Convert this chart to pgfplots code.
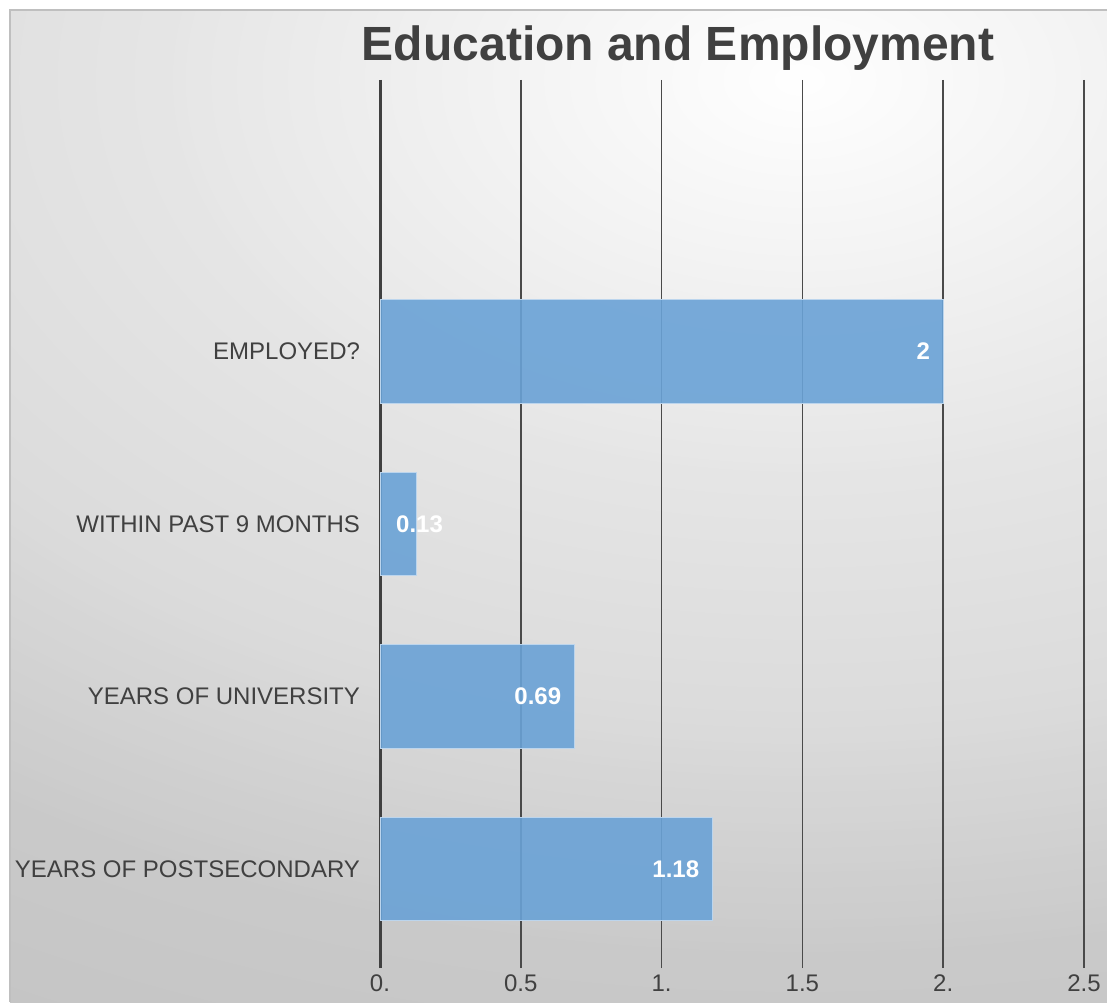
\documentclass[border=0pt]{standalone}
\usepackage{pgfplots}
\pgfplotsset{compat=1.18}
\usepackage{fontspec}
\setmainfont{Liberation Sans}
\definecolor{txt}{HTML}{404040}
\definecolor{barc}{HTML}{6AA2D6}
\definecolor{gridc}{HTML}{4A4A4A}
\begin{document}
\begin{tikzpicture}
\path[use as bounding box] (0,0) rectangle (553.5pt,501pt);
\begin{scope}
\clip (5pt,0pt) rectangle (553.5pt,496pt);
\foreach \r in {140,139,...,1} {
  \pgfmathsetmacro\d{\r*4}
  \pgfmathsetmacro\g{\d<200 ? 100-0.05*\d : (\d<320 ? 90-(\d-200)*0.0333 : (\d<440 ? 86-(\d-320)*0.0583 : max(77,79-(\d-440)*0.02)))}
  \pgfmathsetmacro\rx{1.6*\d}
  \fill[white!\g!black] (400pt,461pt) ellipse [x radius=\rx pt, y radius=\d pt];
}
\end{scope}
\draw[black!25, line width=0.8pt] (5pt,0pt) -- (5pt,496pt) -- (553.5pt,496pt);
\node[font=\fontsize{24}{28}\selectfont\bfseries, text=txt] at (339pt,476.8pt) {Education and Employment};
\begin{axis}[
  at={(190pt,23.5pt)}, anchor=south west, scale only axis,
  width=352pt, height=431pt,
  xbar, bar width=0.6,
  xmin=0, xmax=2.5, ymin=-0.5, ymax=4.5,
  axis line style={draw=none},
  xtick={0.5,1,1.5,2,2.5}, xticklabels={0.5,1.,1.5,2.,2.5},
  extra x ticks={0}, extra x tick labels={0.},
  extra x tick style={grid=major, major grid style={line width=1.5pt, color=txt}, xtick style={line width=1.5pt, color=txt}},
  xmajorgrids, major grid style={line width=0.75pt, color=gridc},
  tick align=outside, major tick length=6.5pt,
  xtick style={line width=0.75pt, color=gridc},
  ytick={0,1,2,3},
  yticklabels={YEARS OF POSTSECONDARY, YEARS OF UNIVERSITY, WITHIN PAST 9 MONTHS, EMPLOYED?},
  ytick style={draw=none},
  tick label style={font=\fontsize{12}{14}\selectfont, text=txt},
  /pgf/number format/assume math mode=true,
  bar shift=0pt,
  every node near coord/.append style={font=\fontsize{12}{14}\selectfont\bfseries, text=white, fill opacity=1, text opacity=1},
]
\addplot[fill=barc, fill opacity=0.9, draw=white!55!barc, line width=0.5pt,
  nodes near coords, nodes near coords style={anchor=east, xshift=-3pt},
  point meta=explicit symbolic]
  coordinates {(1.18,0) [1.18] (0.69,1) [0.69] (2,3) [2]};
\addplot[fill=barc, fill opacity=0.9, draw=white!55!barc, line width=0.5pt,
  nodes near coords, nodes near coords style={anchor=west, xshift=-13.8pt},
  point meta=explicit symbolic]
  coordinates {(0.13,2) [0.13]};
\end{axis}
\end{tikzpicture}
\end{document}
